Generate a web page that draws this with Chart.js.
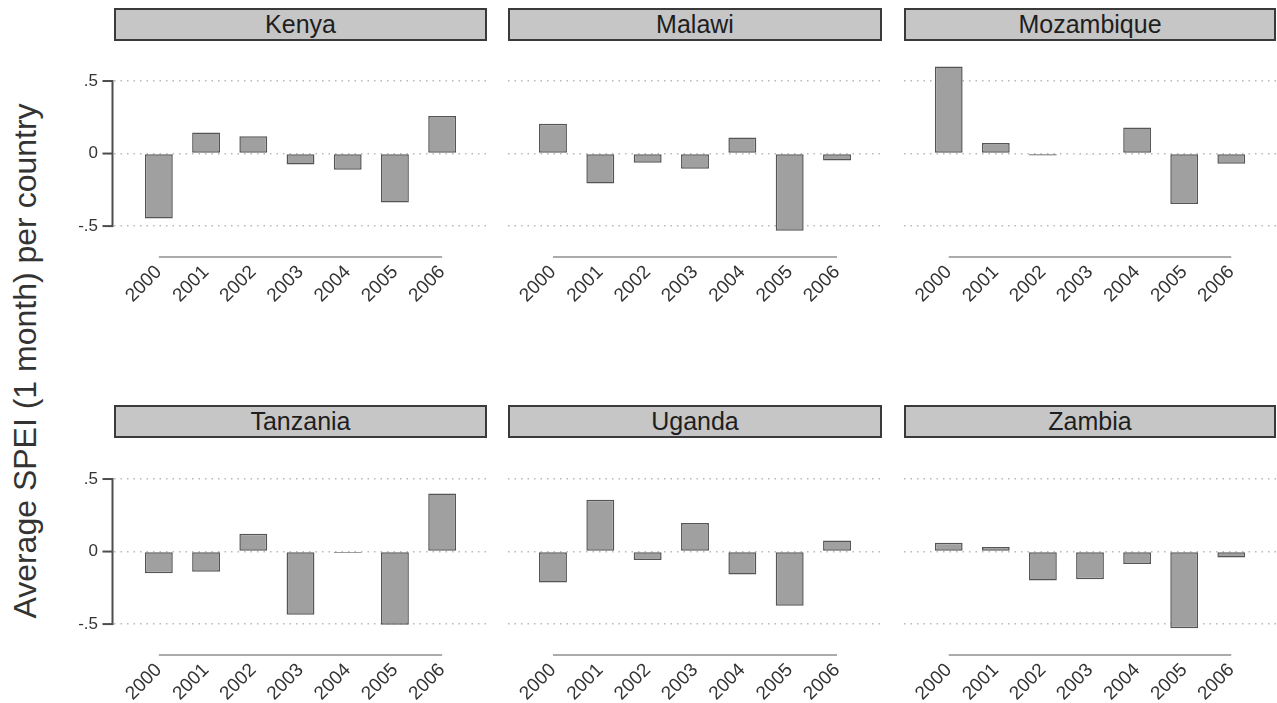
<!DOCTYPE html>
<html>
<head>
<meta charset="utf-8">
<script src="https://cdn.jsdelivr.net/npm/chart.js@4.4.0/dist/chart.umd.min.js"></script>
<style>
  html, body { margin: 0; padding: 0; background: #fff; }
  body { width: 1277px; height: 703px; position: relative; overflow: hidden;
         font-family: "Liberation Sans", Arial, sans-serif; }
  .strip { position: absolute; height: 33px; box-sizing: border-box; border: 2px solid #3a3a3a;
           background: #c6c6c6; color: #1e1e1e; font-size: 25px; line-height: 29px; text-align: center; }
  .panel { position: absolute; }
  .ytitle { position: absolute; left: 25px; top: 361px; transform: translate(-50%, -50%) rotate(-90deg);
            white-space: nowrap; font-size: 32px; color: #333; }
</style>
</head>
<body>
<div class="ytitle">Average SPEI (1 month) per country</div>
<script>
// Yearly average SPEI (1 month) by country
const years = [2000, 2001, 2002, 2003, 2004, 2005, 2006];
const countries = ['Kenya', 'Malawi', 'Mozambique', 'Tanzania', 'Uganda', 'Zambia'];
const kenya      = [-0.448, 0.145, 0.120, -0.076, -0.112, -0.338, 0.258];
const malawi     = [0.205, -0.207, -0.064, -0.105, 0.110, -0.533, -0.048];
const mozambique = [0.600, 0.072, -0.014, -0.006, 0.180, -0.347, -0.071];
const tanzania   = [-0.150, -0.140, 0.122, -0.435, -0.010, -0.505, 0.400];
const uganda     = [-0.214, 0.357, -0.058, 0.196, -0.159, -0.373, 0.076];
const zambia     = [0.060, 0.032, -0.200, -0.191, -0.085, -0.528, -0.041];
const yTickValues = [-0.5, 0, 0.5];
const yTickLabels = ['-.5', '0', '.5'];

const seriesByCountry = [kenya, malawi, mozambique, tanzania, uganda, zambia];

// panel geometry (facet strips and plot regions)
const colLeft  = [114, 508, 904];
const colRight = [487, 882, 1276];
const stripTop = [8, 405];
const plotTop  = [52, 450];
const plotHeight = 206;
const yAxisWidth = 60;
const xAxisHeight = 62;
const FONT = '"Liberation Sans", Arial, sans-serif';

// axis rules that span only the tick range; the y rule carries its own tick marks
function rangeAxes(showY) {
  return {
    id: 'rangeAxes',
    afterDraw(chart) {
      const { ctx, scales: { x, y } } = chart;
      ctx.save();
      ctx.setLineDash([]);
      ctx.globalAlpha = 1;
      ctx.strokeStyle = '#ababab';
      ctx.lineWidth = 2;
      ctx.beginPath();
      ctx.moveTo(x.getPixelForValue(years[0]), x.top - 1);
      ctx.lineTo(x.getPixelForValue(years[years.length - 1]), x.top - 1);
      ctx.stroke();
      if (showY) {
        const left = chart.chartArea.left - 1.5;
        const top = y.getPixelForValue(yTickValues[yTickValues.length - 1]);
        const bottom = y.getPixelForValue(yTickValues[0]);
        ctx.fillStyle = '#4d4d4d';
        ctx.fillRect(left - 1, top - 1, 2, bottom - top + 2);
        yTickValues.forEach(v => {
          const py = y.getPixelForValue(v);
          ctx.fillRect(left - 10, py - 1, 10, 2);
        });
      }
      ctx.restore();
    }
  };
}

countries.forEach((name, i) => {
  const col = i % 3, row = Math.floor(i / 3);
  const showY = col === 0;

  const strip = document.createElement('div');
  strip.className = 'strip';
  strip.style.left = colLeft[col] + 'px';
  strip.style.top = stripTop[row] + 'px';
  strip.style.width = (colRight[col] - colLeft[col]) + 'px';
  strip.textContent = name;
  document.body.appendChild(strip);

  const w = colRight[col] - colLeft[col] + yAxisWidth;
  const h = plotHeight + xAxisHeight;
  const holder = document.createElement('div');
  holder.className = 'panel';
  holder.style.left = (colLeft[col] - yAxisWidth) + 'px';
  holder.style.top = plotTop[row] + 'px';
  holder.style.width = w + 'px';
  holder.style.height = h + 'px';
  const canvas = document.createElement('canvas');
  canvas.width = w;
  canvas.height = h;
  holder.appendChild(canvas);
  document.body.appendChild(holder);

  new Chart(canvas, {
    type: 'bar',
    data: {
      labels: years,
      datasets: [{
        data: seriesByCountry[i],
        backgroundColor: '#a0a0a0',
        borderColor: '#555',
        borderWidth: 1.5,
        borderSkipped: false,
        barPercentage: 0.59,
        categoryPercentage: 1.0
      }]
    },
    options: {
      responsive: false,
      animation: false,
      layout: { padding: 0 },
      plugins: {
        legend: { display: false },
        tooltip: { enabled: false }
      },
      scales: {
        x: {
          type: 'linear',
          offset: false,
          min: 1999.05,
          max: 2006.95,
          grid: { display: false, drawTicks: false },
          border: { display: false },
          afterBuildTicks: s => { s.ticks = years.map(v => ({ value: v })); },
          afterFit: s => { s.height = xAxisHeight; s.paddingLeft = 0; s.paddingRight = 0; },
          ticks: {
            autoSkip: false,
            minRotation: 45,
            maxRotation: 45,
            padding: 3,
            color: '#333',
            font: { family: FONT, size: 19 },
            callback: v => String(v)
          }
        },
        y: {
          min: -0.72,
          max: 0.70,
          afterBuildTicks: s => { s.ticks = yTickValues.map(v => ({ value: v })); },
          afterFit: s => { s.width = yAxisWidth; s.paddingTop = 0; s.paddingBottom = 0; },
          border: { display: false, dash: [1.5, 5] },
          grid: {
            color: '#b8b8b8',
            lineWidth: 1.5,
            drawTicks: false
          },
          ticks: {
            display: showY,
            padding: 16,
            color: '#333',
            font: { family: FONT, size: 17 },
            callback: v => yTickLabels[yTickValues.indexOf(v)]
          }
        }
      }
    },
    plugins: [rangeAxes(showY)]
  });
});
</script>
</body>
</html>
